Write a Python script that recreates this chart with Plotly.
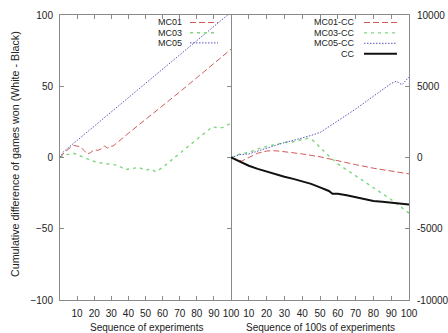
import plotly.graph_objects as go

# ---------------- data ----------------
# Left panel: cumulative difference per experiment
mc01_x = [0, 3, 6, 8, 10, 12, 14, 16, 18, 20, 22, 24, 26, 28, 30, 31, 40, 50, 60, 70, 80, 90, 100]
mc01_y = [0, 4, 7, 8.5, 8, 7.5, 5, 2.5, 3.5, 5.5, 5, 6, 8, 6.5, 8, 8, 17, 26.5, 36, 46, 56, 66, 76]

mc03_x = [0, 4, 8, 11, 14, 18, 22, 26, 30, 34, 38, 42, 46, 50, 53, 56, 60, 65, 70, 75, 80, 85, 89, 92, 95, 100]
mc03_y = [0, 2, 3, 1.5, -0.5, -2, -3.5, -4, -5, -5.5, -8.5, -7.5, -7, -9, -8, -10, -7, -2, 3, 8, 13, 18, 21.5, 21, 21, 24]

mc05_x = [0, 2, 5, 10, 20, 30, 40, 50, 60, 70, 80, 90, 100]
mc05_y = [0, 4, 7, 12, 22, 32, 42, 52, 62, 72, 82, 92, 102]

# Right panel: cumulative difference per 100 experiments
cc_x = [0, 5, 10, 15, 20, 25, 30, 35, 40, 45, 50, 55, 57, 60, 65, 70, 75, 80, 85, 90, 95, 100]
cc_y = [0, -300, -580, -800, -1000, -1180, -1350, -1500, -1650, -1850, -2100, -2350, -2550, -2550,
        -2650, -2800, -2900, -3050, -3100, -3150, -3200, -3300]

mc01cc_x = [0, 3, 6, 10, 15, 20, 23, 27, 32, 40, 50, 60, 70, 80, 90, 100]
mc01cc_y = [0, -150, -250, 0, 300, 450, 480, 450, 380, 250, 50, -250, -500, -750, -950, -1150]

mc03cc_x = [0, 5, 10, 15, 20, 25, 30, 35, 40, 43, 46, 50, 55, 60, 70, 80, 90, 100]
mc03cc_y = [0, 250, 350, 600, 780, 900, 1050, 1100, 1250, 1350, 1200, 700, 100, -450, -1300, -2100, -2950, -3900]

mc05cc_x = [0, 5, 10, 15, 20, 25, 30, 35, 40, 45, 50, 55, 60, 65, 70, 75, 80, 85, 90, 93, 96, 100]
mc05cc_y = [0, 200, 250, 450, 700, 900, 1050, 1200, 1350, 1550, 1750, 2150, 2600, 3000, 3400, 3850,
            4300, 4750, 5200, 5350, 5100, 5650]

x_ticks = [10, 20, 30, 40, 50, 60, 70, 80, 90, 100]
y_ticks_left = [-100, -50, 0, 50, 100]
y_ticks_right = [-10000, -5000, 0, 5000, 10000]
y_ticktext_right = ["-10000", "-5000", "0", "5000", "10000"]

left_names = ["MC01", "MC03", "MC05"]
right_names = ["MC01-CC", "MC03-CC", "MC05-CC", "CC"]

# ---------------- styles ----------------
W, H = 448, 333
ML, MR, MT, MB = 60, 39, 15, 33
PW, PH = W - ML - MR, H - MT - MB
SPLIT = (231 - ML) / PW

RED = "#d05a5a"
GREEN = "#7fd67f"
BLUE = "#5656bf"
BLACK = "#111111"
AX = "#8a8a8a"
FONT = "Liberation Sans, Arial, sans-serif"

s_mc01 = dict(color=RED, width=1, dash="6px,3px")
s_mc03 = dict(color=GREEN, width=1.4, dash="3px,4px")
s_mc05 = dict(color=BLUE, width=1, dash="1.5px,1.5px")
s_cc = dict(color=BLACK, width=2)


def px(xp):
    return (xp - ML) / PW


def py(yp):
    return (H - MB - yp) / PH


fig = go.Figure()
fig.add_trace(go.Scatter(x=mc01_x, y=mc01_y, mode="lines", line=s_mc01, xaxis="x", yaxis="y", showlegend=False))
fig.add_trace(go.Scatter(x=mc03_x, y=mc03_y, mode="lines", line=s_mc03, xaxis="x", yaxis="y", showlegend=False))
fig.add_trace(go.Scatter(x=mc05_x, y=mc05_y, mode="lines", line=s_mc05, xaxis="x", yaxis="y", showlegend=False))

fig.add_trace(go.Scatter(x=mc01cc_x, y=mc01cc_y, mode="lines", line=s_mc01, xaxis="x2", yaxis="y2", showlegend=False))
fig.add_trace(go.Scatter(x=mc03cc_x, y=mc03cc_y, mode="lines", line=s_mc03, xaxis="x2", yaxis="y2", showlegend=False))
fig.add_trace(go.Scatter(x=mc05cc_x, y=mc05cc_y, mode="lines", line=s_mc05, xaxis="x2", yaxis="y2", showlegend=False))
fig.add_trace(go.Scatter(x=cc_x, y=cc_y, mode="lines", line=s_cc, xaxis="x2", yaxis="y2", showlegend=False))

axis_common = dict(showgrid=False, zeroline=False, showline=True, linecolor=AX, linewidth=1,
                   ticks="inside", ticklen=4, tickcolor=AX, tickwidth=1, automargin=False,
                   tickfont=dict(family=FONT, size=10, color="#222"))

fig.update_layout(
    width=W, height=H,
    margin=dict(l=ML, r=MR, t=MT, b=MB),
    paper_bgcolor="white", plot_bgcolor="white",
    font=dict(family=FONT, size=10, color="#222"),
    xaxis=dict(domain=[0, SPLIT], range=[0, 100], tickvals=x_ticks, anchor="y", mirror="ticks",
               tickangle=0, ticklabelstandoff=4, **axis_common),
    yaxis=dict(domain=[0, 1], range=[-100, 100], tickvals=y_ticks_left, anchor="x", mirror="ticks",
               ticklabelstandoff=4, **axis_common),
    xaxis2=dict(domain=[SPLIT, 1], range=[0, 100], tickvals=x_ticks, anchor="y2", mirror="ticks",
                tickangle=0, ticklabelstandoff=4, **axis_common),
    yaxis2=dict(domain=[0, 1], range=[-10000, 10000], tickvals=y_ticks_right, ticktext=y_ticktext_right,
                anchor="x2", side="right", mirror=False, ticklabelstandoff=5, **axis_common),
)

annotations = []
shapes = []

# axis titles
annotations.append(dict(text="Cumulative difference of games won (White - Black)", textangle=-90,
                        x=px(15), y=py(154), xref="paper", yref="paper", showarrow=False,
                        xanchor="center", yanchor="middle", font=dict(size=10.7)))
annotations.append(dict(text="Sequence of experiments", x=px(146), y=py(327), xref="paper", yref="paper",
                        showarrow=False, xanchor="center", yanchor="middle", font=dict(size=10)))
annotations.append(dict(text="Sequence of 100s of experiments", x=px(320), y=py(327), xref="paper",
                        yref="paper", showarrow=False, xanchor="center", yanchor="middle", font=dict(size=10)))

# legends (gnuplot style: text right-aligned, sample to the right)
left_styles = [s_mc01, s_mc03, s_mc05]
left_rows = [22.5, 32.7, 42.9]
for name, st, yr in zip(left_names, left_styles, left_rows):
    annotations.append(dict(text=name, x=px(184), y=py(yr), xref="paper", yref="paper", showarrow=False,
                            xanchor="right", yanchor="middle", font=dict(size=9)))
    shapes.append(dict(type="line", xref="paper", yref="paper", x0=px(190), x1=px(218),
                       y0=py(yr), y1=py(yr), line=st))

right_styles = [s_mc01, s_mc03, s_mc05, s_cc]
right_rows = [22.5, 32.9, 43.3, 53.7]
for name, st, yr in zip(right_names, right_styles, right_rows):
    annotations.append(dict(text=name, x=px(357), y=py(yr), xref="paper", yref="paper", showarrow=False,
                            xanchor="right", yanchor="middle", font=dict(size=9)))
    shapes.append(dict(type="line", xref="paper", yref="paper", x0=px(364), x1=px(397),
                       y0=py(yr), y1=py(yr), line=st))

fig.update_layout(annotations=annotations, shapes=shapes)

fig.write_html("out.html", config={"displayModeBar": False},
               post_script="document.body.style.margin='0';")
